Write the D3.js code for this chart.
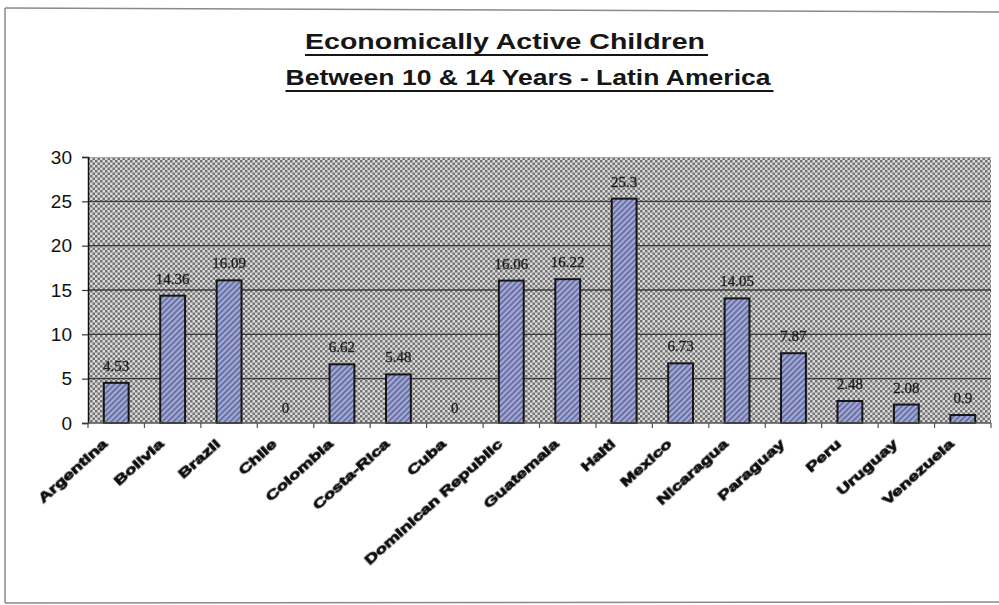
<!DOCTYPE html>
<html>
<head>
<meta charset="utf-8">
<script src="https://cdn.jsdelivr.net/npm/d3@7"></script>
<style>
  html, body { margin: 0; padding: 0; background: #fff; }
  svg { display: block; }
</style>
</head>
<body>
<svg id="chart" width="999" height="605"></svg>
<script>
// Economically active children aged 10-14, by country (%)
const countries = ["Argentina", "Bolivia", "Brazil", "Chile", "Colombia", "Costa-Rica", "Cuba",
  "Dominican Republic", "Guatemala", "Haiti", "Mexico", "Nicaragua", "Paraguay", "Peru",
  "Uruguay", "Venezuela"];
const values = [4.53, 14.36, 16.09, 0, 6.62, 5.48, 0, 16.06, 16.22, 25.3, 6.73, 14.05, 7.87, 2.48, 2.08, 0.9];
const valueLabels = ["4.53", "14.36", "16.09", "0", "6.62", "5.48", "0", "16.06", "16.22", "25.3",
  "6.73", "14.05", "7.87", "2.48", "2.08", "0.9"];
const yTicks = [0, 5, 10, 15, 20, 25, 30];
const titleLines = ["Economically Active Children", "Between 10 & 14 Years - Latin America"];

const data = countries.map((c, i) => ({ country: c, value: values[i], label: valueLabels[i] }));

const svg = d3.select("#chart");
const plot = { left: 88, right: 991, top: 157, bottom: 423 };

// patterns: checkered plot background and hatched bars
const defs = svg.append("defs");
const checker = defs.append("pattern")
  .attr("id", "checker").attr("patternUnits", "userSpaceOnUse")
  .attr("width", 5).attr("height", 5);
checker.append("rect").attr("width", 5).attr("height", 5).attr("fill", "#dadada");
checker.append("rect").attr("width", 2.5).attr("height", 2.5).attr("fill", "#737373");
checker.append("rect").attr("x", 2.5).attr("y", 2.5).attr("width", 2.5).attr("height", 2.5).attr("fill", "#737373");

const hatch = defs.append("pattern")
  .attr("id", "hatch").attr("patternUnits", "userSpaceOnUse")
  .attr("width", 4).attr("height", 4)
  .attr("patternTransform", "rotate(45)");
hatch.append("rect").attr("width", 4).attr("height", 4).attr("fill", "#a3aad6");
hatch.append("rect").attr("width", 1.6).attr("height", 4).attr("fill", "#5d6599");

const blur = defs.append("filter").attr("id", "soft");
blur.append("feGaussianBlur").attr("stdDeviation", 0.4);

// outer frame
const frame = svg.append("g").attr("stroke", "#8a8a8a").attr("stroke-width", 1.5).attr("fill", "none");
frame.append("line").attr("x1", 5).attr("y1", 8).attr("x2", 999).attr("y2", 12);
frame.append("line").attr("x1", 5).attr("y1", 8).attr("x2", 5).attr("y2", 603);
frame.append("line").attr("x1", 5).attr("y1", 603).attr("x2", 999).attr("y2", 602);

// scales
const x = d3.scaleBand()
  .domain(countries)
  .range([plot.left, plot.right])
  .paddingInner(0.56)
  .paddingOuter(0.28);
const y = d3.scaleLinear().domain([0, 30]).range([plot.bottom, plot.top]);

// plot background
svg.append("rect")
  .attr("x", plot.left).attr("y", plot.top)
  .attr("width", plot.right - plot.left).attr("height", plot.bottom - plot.top)
  .attr("fill", "url(#checker)");

// gridlines
svg.append("g")
  .selectAll("line")
  .data(yTicks.filter(t => t > 0 && t < 30))
  .join("line")
  .attr("x1", plot.left).attr("x2", plot.right)
  .attr("y1", d => y(d)).attr("y2", d => y(d))
  .attr("stroke", "#3a3a3a").attr("stroke-width", 1.4);

// bars
svg.append("g")
  .selectAll("rect")
  .data(data.filter(d => d.value > 0))
  .join("rect")
  .attr("x", d => x(d.country))
  .attr("y", d => y(d.value))
  .attr("width", x.bandwidth())
  .attr("height", d => y(0) - y(d.value))
  .attr("fill", "url(#hatch)")
  .attr("stroke", "#151515")
  .attr("stroke-width", 2);

// value labels
svg.append("g")
  .selectAll("text")
  .data(data)
  .join("text")
  .attr("x", d => x(d.country) + x.bandwidth() / 2)
  .attr("y", d => y(d.value) - (d.value > 0 ? 12 : 10))
  .attr("text-anchor", "middle")
  .attr("font-family", "'Liberation Serif', 'Times New Roman', serif")
  .attr("font-size", 15)
  .attr("fill", "#1e1e1e")
  .attr("stroke", "#1e1e1e")
  .attr("stroke-width", 0.3)
  .attr("filter", "url(#soft)")
  .text(d => d.label);

// y axis
const yAxis = svg.append("g")
  .attr("transform", `translate(${plot.left},0)`)
  .call(d3.axisLeft(y).tickValues(yTicks).tickSize(6).tickPadding(10));
yAxis.select(".domain").attr("stroke", "#111").attr("stroke-width", 1.5);
yAxis.selectAll(".tick line").attr("stroke", "#333").attr("stroke-width", 1.2);
yAxis.selectAll(".tick text")
  .attr("font-family", "'Liberation Sans', Arial, sans-serif")
  .attr("font-size", 19)
  .attr("fill", "#111");

// x axis: ticks on category boundaries
const step = x.step();
const boundaries = d3.range(countries.length + 1).map(i => x(countries[0]) - step * x.paddingInner() / 2 + i * step);
const xAxis = svg.append("g");
xAxis.append("line")
  .attr("x1", plot.left).attr("x2", plot.right)
  .attr("y1", plot.bottom).attr("y2", plot.bottom)
  .attr("stroke", "#555").attr("stroke-width", 1.4);
xAxis.selectAll("line.tick")
  .data(boundaries)
  .join("line")
  .attr("class", "tick")
  .attr("x1", d => d).attr("x2", d => d)
  .attr("y1", plot.bottom).attr("y2", plot.bottom + 5)
  .attr("stroke", "#555").attr("stroke-width", 1.2);

// rotated category labels
xAxis.selectAll("text")
  .data(countries)
  .join("text")
  .attr("transform", d => `translate(${x(d) + x.bandwidth() / 2 - 8},${plot.bottom + 22}) rotate(-42) scale(1.5,1)`)
  .attr("text-anchor", "end")
  .attr("font-family", "'Liberation Sans', Arial, sans-serif")
  .attr("font-weight", "bold")
  .attr("font-size", 12.5)
  .attr("fill", "#111")
  .attr("stroke", "#111")
  .attr("stroke-width", 0.8)
  .attr("filter", "url(#soft)")
  .text(d => d);

// title, two underlined lines
const titleSpec = [
  { text: titleLines[0], cx: 505, y: 49, width: 400 },
  { text: titleLines[1], cx: 528, y: 85, width: 485 }
];
const title = svg.append("g");
titleSpec.forEach(t => {
  title.append("text")
    .attr("x", t.cx - t.width / 2)
    .attr("y", t.y)
    .attr("textLength", t.width)
    .attr("lengthAdjust", "spacingAndGlyphs")
    .attr("font-family", "'Liberation Sans', Arial, sans-serif")
    .attr("font-weight", "bold")
    .attr("font-size", 22.5)
    .attr("fill", "#161616")
    .text(t.text);
  title.append("line")
    .attr("x1", t.cx - t.width / 2).attr("x2", t.cx + t.width / 2 + 3)
    .attr("y1", t.y + 6).attr("y2", t.y + 6)
    .attr("stroke", "#161616").attr("stroke-width", 2);
});
</script>
</body>
</html>
